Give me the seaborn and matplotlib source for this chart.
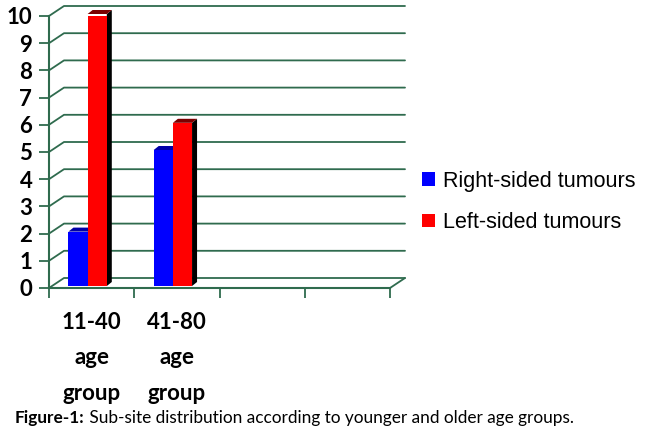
import matplotlib
matplotlib.use("Agg")
import matplotlib.pyplot as plt
import matplotlib.transforms as mtransforms
from matplotlib.patches import Polygon, Patch
import seaborn as sns
import pandas as pd

# values
groups = ["11-40\nage\ngroup", "41-80\nage\ngroup"]
slots = groups + ["slot3", "slot4"]          # two empty category slots
sides = ["Right-sided tumours", "Left-sided tumours"]
right_counts = [2, 5]
left_counts = [10, 6]
yticks = list(range(0, 11))

blue, red = "#0000ff", "#ff0000"
grid_col = "#2f6b4e"

df = pd.DataFrame({
    "group": groups * 2,
    "count": right_counts + left_counts,
    "side": [sides[0]] * 2 + [sides[1]] * 2,
})

sns.set_style("white")
plt.rcParams["font.family"] = ["Lato", "DejaVu Sans"]
plt.rcParams["text.color"] = "black"
plt.rcParams["xtick.color"] = "black"
plt.rcParams["ytick.color"] = "black"

fig = plt.figure(figsize=(6.5, 4.37), dpi=100)
ax = fig.add_axes([49 / 650, 149 / 437, 341 / 650, 272 / 437])

sns.barplot(data=df, x="group", y="count", hue="side", order=slots,
            hue_order=sides, palette=[blue, red], saturation=1,
            width=0.45, ax=ax, legend=False, zorder=3, linewidth=0)
ax.set_xlim(-0.5, 3.5)
ax.set_ylim(0, 10)
ax.set_xlabel("")
ax.set_ylabel("")

# pixel -> data conversions for the fake 3D depth
px_x = 4 / 341
px_y = 10 / 272

# back wall gridlines with diagonal connectors
gdx, gdy = 15 * px_x, 10 * px_y
for y in yticks:
    ax.plot([-0.5, -0.5 + gdx, 3.5 + gdx], [y, y + gdy, y + gdy],
            color=grid_col, lw=1.3, clip_on=False, zorder=1)
ax.plot([3.5, 3.5 + gdx], [0, gdy], color=grid_col, lw=1.3,
        clip_on=False, zorder=1)

# shift bars a little and add side/top faces
shift = mtransforms.ScaledTranslation(-4 / 100, 2 / 100, fig.dpi_scale_trans)
bdx, bdy = 5 * px_x, 4 * px_y
tops = {0: "#0000a8", 1: "#7a0000"}
side_cols = {0: "#00004a", 1: "#000000"}
for i, cont in enumerate(ax.containers):
    for bar in cont:
        h = bar.get_height()
        if not h or h != h:
            continue
        x0 = bar.get_x()
        x1 = x0 + bar.get_width()
        bar.set_transform(ax.transData + shift)
        bar.set_linewidth(0)
        bar.set_zorder(4 + i * 2)
        side = Polygon([(x1, 0), (x1 + bdx, bdy), (x1 + bdx, h + bdy), (x1, h)],
                       closed=True, color=side_cols[i], lw=0,
                       transform=ax.transData + shift, zorder=3 + i * 2,
                       clip_on=False)
        top = Polygon([(x0, h), (x1, h), (x1 + bdx, h + bdy), (x0 + bdx, h + bdy)],
                      closed=True, color=tops[i], lw=0,
                      transform=ax.transData + shift, zorder=3 + i * 2,
                      clip_on=False)
        ax.add_patch(side)
        ax.add_patch(top)

# axes styling
for s in ["top", "right"]:
    ax.spines[s].set_visible(False)
for s in ["left", "bottom"]:
    ax.spines[s].set_color(grid_col)
    ax.spines[s].set_linewidth(1.5)
    ax.spines[s].set_zorder(10)

ax.set_yticks(yticks)
ax.set_yticklabels([str(v) for v in yticks], fontsize=16, fontweight="bold")
ax.tick_params(axis="y", direction="out", length=7, width=1.3,
               color=grid_col, labelcolor="black", pad=5, left=True)

ax.set_xticks([-0.5, 0.5, 1.5, 2.5, 3.5])
ax.set_xticklabels([""] * 5)
ax.set_xticks([0, 1], minor=True)
ax.set_xticklabels(groups, minor=True, fontsize=16, fontweight="bold",
                   linespacing=1.85)
ax.tick_params(axis="x", which="major", direction="out", length=7,
               width=1.3, color=grid_col, bottom=True)
ax.tick_params(axis="x", which="minor", length=0, pad=17, labelcolor="black")

handles = [Patch(facecolor=blue, edgecolor="none"),
           Patch(facecolor=red, edgecolor="none")]
fig.legend(handles, sides, loc="center left", bbox_to_anchor=(403 / 650, 1 - 202 / 437),
           frameon=False, prop={"family": ["Liberation Sans", "DejaVu Sans"], "size": 15.5},
           handlelength=0.6, handleheight=0.6, handletextpad=0.35,
           labelspacing=0.95)

cap_font = ["Liberation Sans Narrow", "Lato", "DejaVu Sans"]
cap = fig.text(15 / 650, 1 - 418 / 437, "Figure-1:", fontsize=12.4,
               fontweight="bold", va="center", family=cap_font)
ax.annotate(" Sub-site distribution according to younger and older age groups.",
            xy=(1, 0.5), xycoords=cap, va="center", ha="left", fontsize=12.4,
            family=cap_font, annotation_clip=False)

fig.savefig("out.png", dpi=100)
